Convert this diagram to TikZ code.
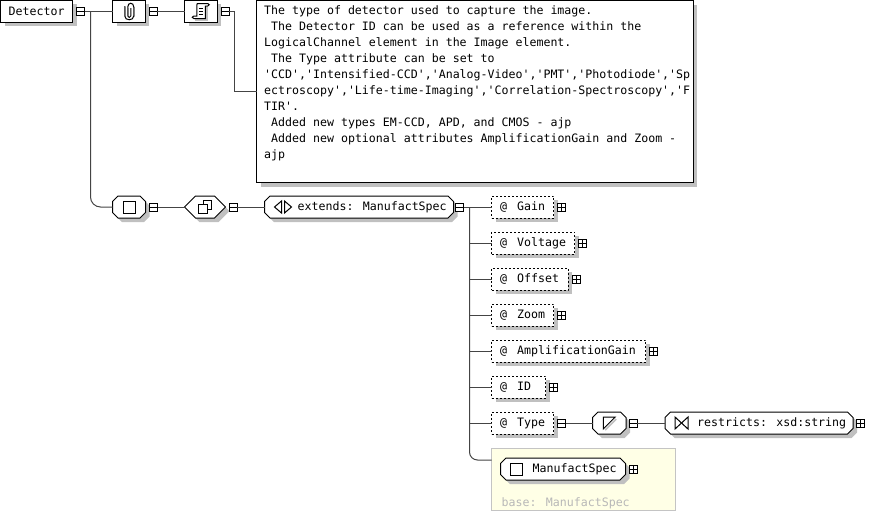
\documentclass[tikz,border=0pt]{standalone}
\usepackage{fontspec}
\newfontfamily\xsdfont{DejaVu Sans Mono}
\usetikzlibrary{positioning,shadows}
\definecolor{connline}{HTML}{444444}
\definecolor{shadowgray}{HTML}{C0C0C0}
\definecolor{basefill}{HTML}{FFFFE6}
\definecolor{baseline}{HTML}{C4C4C4}
\definecolor{basetext}{HTML}{B8B8B8}
\newdimen\octcut
\makeatletter
\pgfdeclareshape{octagonbox}{
    \inheritsavedanchors[from=rectangle]
    \inheritanchorborder[from=rectangle]
    \inheritanchor[from=rectangle]{center}
    \inheritanchor[from=rectangle]{west}
    \inheritanchor[from=rectangle]{east}
    \backgroundpath{
        \southwest \pgf@xa=\pgf@x \pgf@ya=\pgf@y
        \northeast \pgf@xb=\pgf@x \pgf@yb=\pgf@y
        \pgf@yc=\pgf@yb \advance\pgf@yc by -\pgf@ya \divide\pgf@yc by 2
        \ifdim\octcut<\pgf@yc \pgf@yc=\octcut \fi
        \pgfpathmoveto{\pgfpoint{\pgf@xa}{\pgf@ya+\pgf@yc}}
        \pgfpathlineto{\pgfpoint{\pgf@xa+\octcut}{\pgf@ya}}
        \pgfpathlineto{\pgfpoint{\pgf@xb-\octcut}{\pgf@ya}}
        \pgfpathlineto{\pgfpoint{\pgf@xb}{\pgf@ya+\pgf@yc}}
        \pgfpathlineto{\pgfpoint{\pgf@xb}{\pgf@yb-\pgf@yc}}
        \pgfpathlineto{\pgfpoint{\pgf@xb-\octcut}{\pgf@yb}}
        \pgfpathlineto{\pgfpoint{\pgf@xa+\octcut}{\pgf@yb}}
        \pgfpathlineto{\pgfpoint{\pgf@xa}{\pgf@yb-\pgf@yc}}
        \pgfpathclose
    }
}
\makeatother
\tikzset{
    octcut/.code={\pgfmathsetlength\octcut{#1}},
    boxshadow/.style={drop shadow={shadow xshift=4pt,shadow yshift=-4pt,fill=shadowgray,opacity=1}},
    plainbox/.style={draw,fill=white,line width=1pt,inner sep=0pt,outer sep=0pt,minimum height=22pt,boxshadow},
    attrbox/.style={plainbox,anchor=west,dash pattern=on 2pt off 2pt},
    octbox/.style={plainbox,anchor=west,shape=octagonbox,octcut=5.5pt},
    hexbox/.style={plainbox,anchor=west,shape=octagonbox,octcut=11pt},
    boxlabel/.style={font=\xsdfont\fontsize{11.6}{16}\selectfont,inner sep=0pt,anchor=west},
    minusbox/.style={draw,fill=white,line width=1pt,inner sep=0pt,outer sep=0pt,minimum size=8pt,
        path picture={\draw (path picture bounding box.west) -- (path picture bounding box.east);}},
    plusbox/.style={draw,fill=white,line width=1pt,inner sep=0pt,outer sep=0pt,minimum size=8pt,
        path picture={\draw (path picture bounding box.west) -- (path picture bounding box.east)
            (path picture bounding box.north) -- (path picture bounding box.south);}},
    conn/.style={draw=connline,line width=1pt},
    icon/.style={line width=1pt},
}
\begin{document}
\begin{tikzpicture}[x=1pt,y=-1pt,node distance=4pt]
    \useasboundingbox (0,0) rectangle (894,512);
    % top row
    \node[plainbox,minimum width=72pt,anchor=west](detector) at (0.5,11){};
    \node[boxlabel,right=8pt of detector.west]{Detector};
    \node[minusbox,right=of detector](detectorminus){};
    \node[plainbox,minimum width=32.5pt,anchor=west](clip) at (112.5,11){};
    \node[minusbox,right=of clip](clipminus){};
    \node[plainbox,minimum width=32.5pt,anchor=west](script) at (184.5,11){};
    \node[minusbox,right=of script](scriptminus){};
    \node[plainbox,anchor=north west,minimum width=436.5pt,minimum height=182pt](doc) at (256.5,0.5){};
    \node[boxlabel,anchor=north west,text width=432pt,align=flush left](doctext) at (264,5.5){%
        The type of detector used to capture the image.\\
        \hspace*{7pt}The Detector ID can be used as a reference within the\\
        LogicalChannel element in the Image element.\\
        \hspace*{7pt}The Type attribute can be set to\\
        'CCD','Intensified-CCD','Analog-Video','PMT','Photodiode','Sp\\
        ectroscopy','Life-time-Imaging','Correlation-Spectroscopy','F\\
        TIR'.\\
        \hspace*{7pt}Added new types EM-CCD, APD, and CMOS - ajp\\
        \hspace*{7pt}Added new optional attributes AmplificationGain and Zoom -\\
        ajp};
    % second row
    \node[octbox,minimum width=33pt](seq) at (112.5,207){};
    \node[minusbox,right=of seq](seqminus){};
    \node[hexbox,minimum width=41pt](choice) at (184.5,207){};
    \node[minusbox,right=3.5pt of choice](choiceminus){};
    \node[octbox,minimum width=189pt](extends) at (264.5,207){};
    \node[boxlabel,right=33pt of extends.west]{extends: ManufactSpec};
    \node[minusbox,right=2pt of extends](extendsminus){};
    % attributes
    \node[attrbox,minimum width=62pt](gain) at (491.5,207){};
    \node[boxlabel,right=8.5pt of gain.west]{@\hspace{10pt}Gain};
    \node[plusbox,right=of gain](gainplus){};
    \node[attrbox,minimum width=83pt](voltage) at (491.5,243){};
    \node[boxlabel,right=8.5pt of voltage.west]{@\hspace{10pt}Voltage};
    \node[plusbox,right=of voltage](voltageplus){};
    \node[attrbox,minimum width=76.5pt](offset) at (491.5,279){};
    \node[boxlabel,right=8.5pt of offset.west]{@\hspace{10pt}Offset};
    \node[plusbox,right=of offset](offsetplus){};
    \node[attrbox,minimum width=62pt](zoom) at (491.5,315){};
    \node[boxlabel,right=8.5pt of zoom.west]{@\hspace{10pt}Zoom};
    \node[plusbox,right=of zoom](zoomplus){};
    \node[attrbox,minimum width=154pt](ampgain) at (491.5,351){};
    \node[boxlabel,right=8.5pt of ampgain.west]{@\hspace{10pt}AmplificationGain};
    \node[plusbox,right=of ampgain](ampgainplus){};
    \node[attrbox,minimum width=54pt](idattr) at (491.5,387){};
    \node[boxlabel,right=8.5pt of idattr.west]{@\hspace{10pt}ID};
    \node[plusbox,right=of idattr](idattrplus){};
    \node[attrbox,minimum width=62pt](typeattr) at (491.5,423){};
    \node[boxlabel,right=8.5pt of typeattr.west]{@\hspace{10pt}Type};
    \node[minusbox,right=of typeattr](typeminus){};
    \node[octbox,minimum width=33.5pt](simple) at (592.5,423){};
    \node[minusbox,right=3pt of simple](simpleminus){};
    \node[octbox,minimum width=188pt](restricts) at (665,423){};
    \node[boxlabel,right=32pt of restricts.west]{restricts: xsd:string};
    \node[plusbox,right=3.5pt of restricts](restrictsplus){};
    % base type
    \node[draw=baseline,fill=basefill,line width=1pt,inner sep=0pt,outer sep=0pt,minimum width=184pt,minimum height=62pt,anchor=north west](basebox) at (491.5,448.5){};
    \node[octbox,minimum width=125pt](manufact) at (500.5,469){};
    \node[boxlabel,right=32pt of manufact.west]{ManufactSpec};
    \node[plusbox,right=3.5pt of manufact](manufactplus){};
    \node[boxlabel,text=basetext] (basetxt) at (501.5,503){base: ManufactSpec};
    % connectors
    \coordinate (trunk) at (90.5,11);
    \coordinate (docjog) at (234.5,11);
    \coordinate (spine) at (469.5,207);
    \coordinate (basein) at (491.5,460);
    \draw[conn] (detectorminus) -- (clip);
    \draw[conn] (clipminus) -- (script);
    \draw[conn] (scriptminus) -- (docjog) |- (doc);
    \draw[conn,rounded corners=10pt] (trunk) |- (seq);
    \draw[conn] (seqminus) -- (choice);
    \draw[conn] (choiceminus) -- (extends);
    \draw[conn] (extendsminus) -- (gain);
    \foreach \attr in {voltage,offset,zoom,ampgain,idattr,typeattr}
        \draw[conn] (spine |- \attr) -- (\attr);
    \draw[conn,rounded corners=8pt] (spine) |- (basein);
    \draw[conn] (typeminus) -- (simple);
    \draw[conn] (simpleminus) -- (restricts);
    % icons
    \draw[line width=1pt,shadowgray,shift={(clip.center)}] (-3,-4) -- (-3,6) (6,-4) -- (6,6) (0,-3) -- (0,5);
    \draw[icon,shift={(clip.center)}] (-4,-5) -- (-4,5) .. controls (-4,10) and (5,10) .. (5,5) -- (5,-4) .. controls (5,-9) and (-1,-9) .. (-1,-4) -- (-1,5) .. controls (-1,7) and (2,7) .. (2,5) -- (2,-3);
    \draw[line width=1.5pt,shadowgray,shift={(script.center)}] (6,-4) -- (6,9) -- (-6,9);
    \draw[icon,fill=white,shift={(script.center)}] (-4,-6) .. controls (-4,-8) and (-3,-7.5) .. (-2,-7.5) -- (7,-7.5) .. controls (9,-7.5) and (9,-5) .. (7,-5) -- (4.5,-5) -- (4.5,7.5) -- (-7,7.5) .. controls (-9,7.5) and (-9,5) .. (-7,5) -- (-4,5) -- cycle;
    \draw[icon,shift={(script.center)}] (-2,-3) -- (2.5,-3) (-2,0) -- (2.5,0) (-2,3) -- (2.5,3);
    \draw[icon,shift={(seq.center)}] (-6,-6) rectangle (6,6);
    \draw[icon,shift={(choice.center)}] (-2,-7) rectangle (6,2);
    \draw[icon,fill=white,shift={(choice.center)}] (-7,-3) rectangle (2,6);
    \draw[icon,shift={(extends.west)}] (10,0) -- (17,-6) -- (17,6) -- cycle;
    \draw[icon,shift={(extends.west)}] (27,0) -- (20,-6) -- (20,6) -- cycle;
    \draw[line width=1.5pt,shadowgray,shift={(simple.center)}] (-4,7) -- (7,-4);
    \draw[icon,shift={(simple.center)}] (-6,6) -- (-6,-6) -- (6,-6) -- cycle;
    \draw[icon,shift={(restricts.west)}] (10,-6) -- (16.5,0) -- (10,6) -- cycle;
    \draw[icon,shift={(restricts.west)}] (23,-6) -- (16.5,0) -- (23,6) -- cycle;
    \draw[icon,shift={(manufact.west)}] (10,-6) rectangle (22,6);
\end{tikzpicture}
\end{document}
